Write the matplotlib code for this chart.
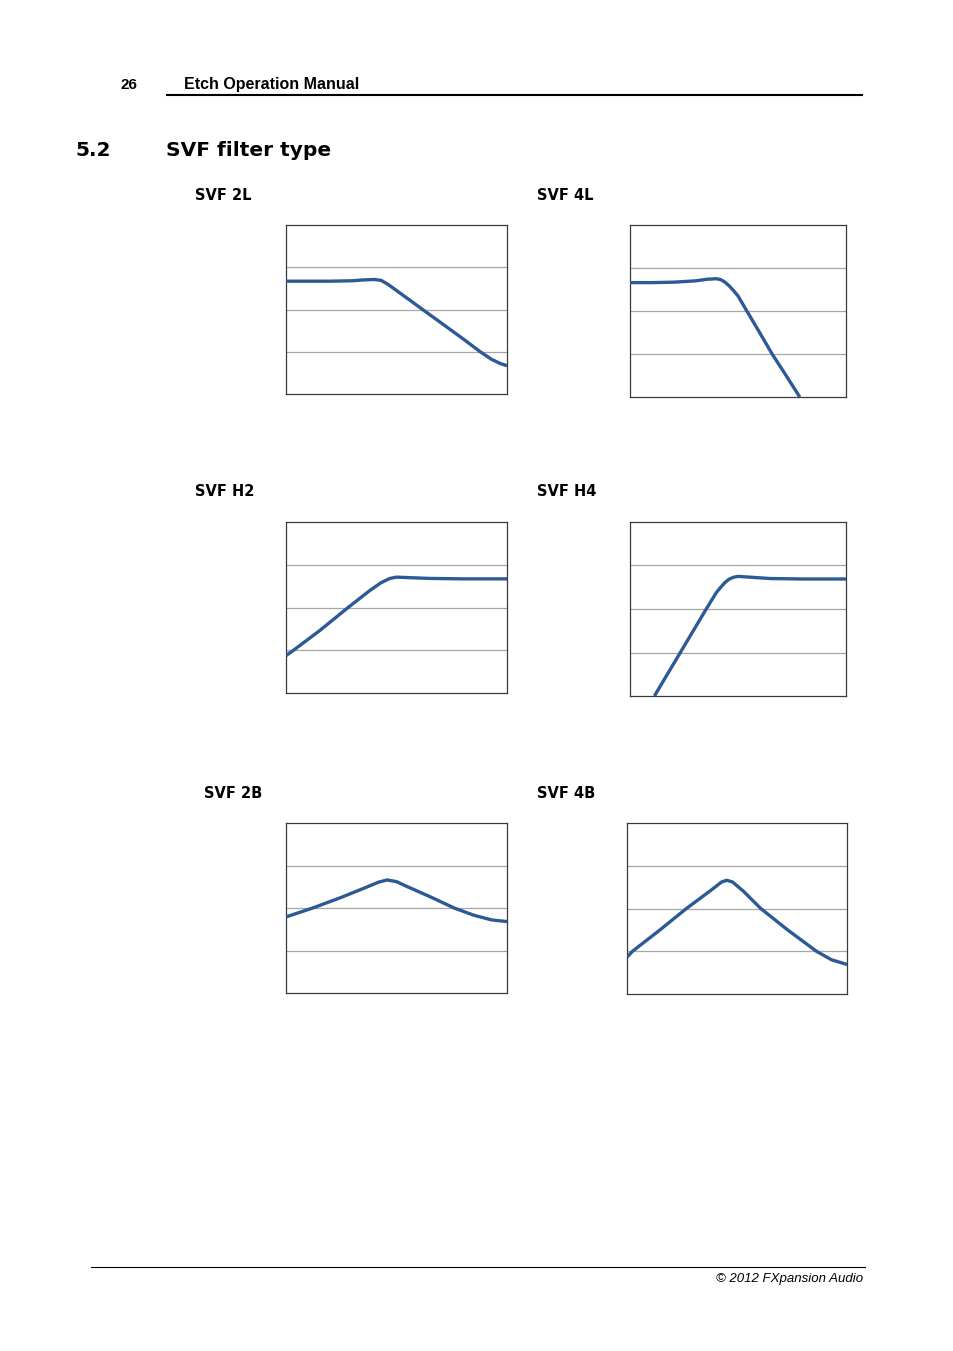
import matplotlib
matplotlib.use('Agg')
import matplotlib.pyplot as plt
from matplotlib.lines import Line2D

W, H = 954, 1351

# curve readings: x is fraction of the panel width, y in grid units (0..4)
x_2l = [0, 0.1, 0.2, 0.3, 0.35, 0.40, 0.43, 0.46, 0.50, 0.55, 0.618, 0.70, 0.80, 0.879, 0.93, 0.97, 1.0]
y_2l = [2.67, 2.67, 2.67, 2.68, 2.70, 2.71, 2.69, 2.60, 2.45, 2.26, 2.0, 1.69, 1.31, 1.0, 0.82, 0.72, 0.67]

x_4l = [0, 0.1, 0.2, 0.3, 0.36, 0.40, 0.42, 0.44, 0.46, 0.48, 0.50, 0.541, 0.60, 0.658, 0.72, 0.786]
y_4l = [2.66, 2.66, 2.67, 2.70, 2.74, 2.75, 2.73, 2.67, 2.58, 2.47, 2.35, 2.0, 1.5, 1.0, 0.52, 0.0]

x_h2 = [0, 0.034, 0.15, 0.281, 0.38, 0.43, 0.47, 0.50, 0.55, 0.65, 0.8, 1.0]
y_h2 = [0.875, 1.0, 1.45, 2.0, 2.40, 2.58, 2.68, 2.71, 2.70, 2.68, 2.67, 2.67]

x_h4 = [0.113, 0.233, 0.353, 0.40, 0.42, 0.44, 0.46, 0.48, 0.50, 0.56, 0.65, 0.8, 1.0]
y_h4 = [0.0, 1.0, 2.0, 2.38, 2.50, 2.61, 2.69, 2.73, 2.75, 2.73, 2.70, 2.69, 2.69]

x_2b = [0, 0.121, 0.25, 0.35, 0.42, 0.458, 0.50, 0.55, 0.65, 0.761, 0.85, 0.93, 1.0]
y_2b = [1.79, 2.0, 2.25, 2.46, 2.61, 2.66, 2.62, 2.50, 2.27, 2.0, 1.83, 1.72, 1.68]

x_4b = [0, 0.025, 0.15, 0.27, 0.38, 0.43, 0.453, 0.48, 0.53, 0.608, 0.73, 0.861, 0.93, 1.0]
y_4b = [0.86, 1.0, 1.5, 2.0, 2.42, 2.62, 2.66, 2.62, 2.40, 2.0, 1.5, 1.0, 0.80, 0.69]

titles = ['SVF 2L', 'SVF 4L', 'SVF H2', 'SVF H4', 'SVF 2B', 'SVF 4B']
curves = [(x_2l, y_2l), (x_4l, y_4l), (x_h2, y_h2), (x_h4, y_h4), (x_2b, y_2b), (x_4b, y_4b)]

# panel boxes in pixels: left, right, top, bottom
boxes = [(286, 507, 225, 394), (630, 846, 225, 397),
         (286, 507, 522, 693), (630, 846, 522, 696),
         (286, 507, 823, 993), (627, 847, 823, 994)]
title_pos = [(195, 195), (537, 195), (195, 492), (537, 492), (204, 793), (537, 793)]

fig = plt.figure(figsize=(W / 100, H / 100), dpi=100)
fig.patch.set_facecolor('white')


def fx(px):
    return px / W


def fy(py):
    return 1 - py / H


# header
fig.text(fx(121), fy(85), '26', fontsize=11, fontweight='bold', family='Liberation Sans', va='center')
fig.text(fx(184), fy(85), 'Etch Operation Manual', fontsize=11.5, fontweight='bold',
         family='Liberation Sans', va='center')
fig.add_artist(Line2D([fx(167), fx(862)], [fy(95), fy(95)], color='black', lw=1.5))

fig.text(fx(75), fy(156), '5.2', fontsize=14.5, fontweight='bold', family='DejaVu Sans', va='baseline')
fig.text(fx(166), fy(156), 'SVF filter type', fontsize=14.5, fontweight='bold', family='DejaVu Sans',
         va='baseline')

for (l, r, t, b), (xs, ys), title, (tx, ty) in zip(boxes, curves, titles, title_pos):
    ax = fig.add_axes([fx(l), fy(b), (r - l) / W, (b - t) / H])
    ax.set_xlim(0, 1)
    ax.set_ylim(0, 4)
    for g in [1, 2, 3]:
        ax.axhline(g, color='#a6a6a6', lw=0.9, zorder=1)
    ax.plot(xs, ys, color='#2c5a95', lw=2.4, solid_capstyle='butt', solid_joinstyle='round', zorder=3)
    ax.set_xticks([])
    ax.set_yticks([])
    for s in ax.spines.values():
        s.set_color('#3a3a3a')
        s.set_linewidth(0.9)
    fig.text(fx(tx), fy(ty), title, fontsize=10.5, fontweight='bold', family='DejaVu Sans', va='center')

# footer
fig.add_artist(Line2D([fx(91), fx(865)], [fy(1267), fy(1267)], color='black', lw=0.8))
fig.text(fx(863), fy(1279), '\u00a9 2012 FXpansion Audio', fontsize=9.5, style='italic',
         family='Liberation Sans', ha='right', va='center')

fig.savefig('out.png', dpi=100, facecolor='white')
